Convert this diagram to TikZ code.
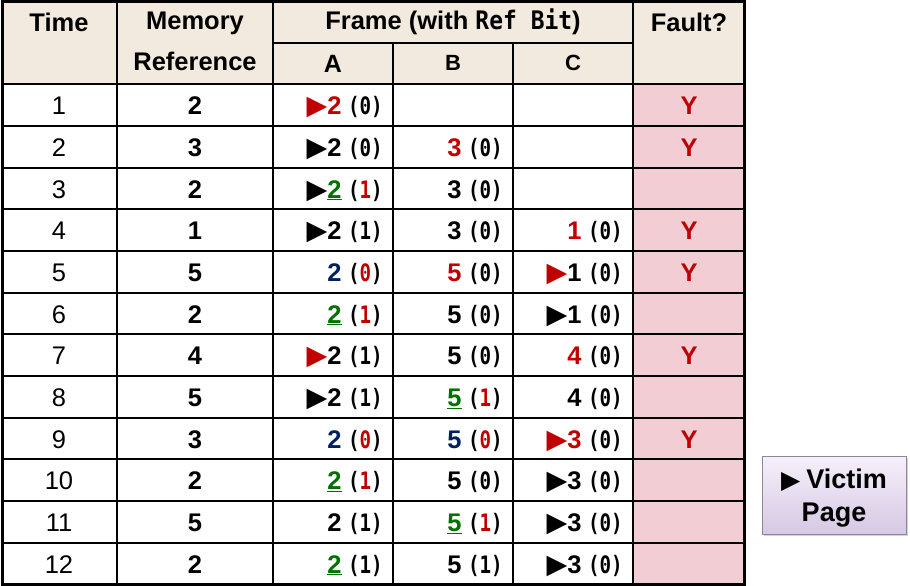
\documentclass[tikz,border=0pt]{standalone}
\usepackage{fontspec}
\setmainfont{Liberation Sans}
\newfontfamily\monof[FakeStretch=0.8]{DejaVu Sans Mono}
\newfontfamily\monoh[FakeStretch=0.9]{DejaVu Sans Mono}
\newfontfamily\symf{DejaVu Sans}
\usetikzlibrary{shadows}
\definecolor{hdr}{RGB}{242,234,222}
\definecolor{fpink}{RGB}{242,206,212}
\definecolor{fred}{RGB}{192,0,0}
\definecolor{fgreen}{RGB}{0,112,0}
\definecolor{fblue}{RGB}{0,32,96}
\definecolor{vtop}{RGB}{246,240,250}
\definecolor{vbot}{RGB}{214,200,228}
\definecolor{vline}{RGB}{140,135,155}
\newcommand{\tri}[1][black]{{\symf\fontsize{27}{28}\selectfont\color{#1}▶}}
\newcommand{\pg}[2][black]{\textcolor{#1}{\bfseries #2}}
\newcommand{\rb}[2][black]{\hspace{6.5pt}{\monof\fontsize{24}{26}\selectfont\bfseries(\textcolor{#1}{#2})}}
\newcommand{\ulg}[1]{\textcolor{fgreen}{\underline{\bfseries #1}}}
\begin{document}
\begin{tikzpicture}[x=1pt,y=-1pt,
  hd/.style={font=\bfseries\fontsize{25.5}{28}\selectfont, inner sep=0pt, align=center},
  sub/.style={font=\bfseries\fontsize{22}{24}\selectfont, inner sep=0pt},
  cell/.style={font=\fontsize{25.5}{28}\selectfont, inner sep=0pt, anchor=base east},
  ctr/.style={font=\fontsize{25.5}{28}\selectfont, inner sep=0pt, anchor=base},
  grid/.style={line width=1.3pt},
  outer/.style={line width=3pt},
  victim/.style={draw=vline, line width=1pt, top color=vtop, bottom color=vbot,
     minimum width=144pt, minimum height=78pt, inner sep=0pt,
     drop shadow={shadow xshift=2pt, shadow yshift=-2pt, opacity=0.35}},
  vtext/.style={inner sep=0pt, align=center, font=\bfseries\fontsize{27}{33}\selectfont}]
\useasboundingbox (0,0) rectangle (910,586);
% fills
\fill[hdr] (2,2) rectangle (744,84);
\fill[fpink] (633,84) rectangle (744,584);
% grid
\foreach \yy in {126,168,209,251,293,334,376,418,459,501,543} {\draw[grid] (2,\yy) -- (744,\yy);}
\draw[grid] (2,84) -- (744,84);
\draw[grid] (273,43) -- (633,43);
\draw[grid] (117,2) -- (117,584);
\draw[grid] (273,2) -- (273,584);
\draw[grid] (633,2) -- (633,584);
\draw[grid] (393,43) -- (393,584);
\draw[grid] (513,43) -- (513,584);
\draw[outer] (2,2) rectangle (744,584);
% header
\node[hd] (hT) at (59,22) {Time};
\node[hd] (hM1) at (195,23) {Memory};
\node[hd] (hM2) at (195,61) {Reference};
\node[hd] (hF) at (453,22) {Frame (with {\monoh Ref Bit})};
\node[hd] (hQ) at (689,22) {Fault?};
\node[sub, font=\bfseries\fontsize{25}{26}\selectfont] (hA) at (333,64) {A};
\node[sub] (hB) at (453,63) {B};
\node[sub] (hC) at (573,63) {C};
% body: baseline = row centre + 10
\def\bl#1{{84+41.667*(#1-0.5)+10}}
% row 1
\node[ctr] (t1) at (59,\bl{1}) {1};
\node[ctr] (m1) at (195,\bl{1}) {\bfseries 2};
\node[cell] (a1) at (383,\bl{1}) {\tri[fred]\pg[fred]{2}\rb{0}};
\node[ctr] (f1) at (689,\bl{1}) {\pg[fred]{Y}};
% row 2
\node[ctr] (t2) at (59,\bl{2}) {2};
\node[ctr] (m2) at (195,\bl{2}) {\bfseries 3};
\node[cell] (a2) at (383,\bl{2}) {\tri\pg{2}\rb{0}};
\node[cell] (b2) at (503,\bl{2}) {\pg[fred]{3}\rb{0}};
\node[ctr] (f2) at (689,\bl{2}) {\pg[fred]{Y}};
% row 3
\node[ctr] (t3) at (59,\bl{3}) {3};
\node[ctr] (m3) at (195,\bl{3}) {\bfseries 2};
\node[cell] (a3) at (383,\bl{3}) {\tri\ulg{2}\rb[fred]{1}};
\node[cell] (b3) at (503,\bl{3}) {\pg{3}\rb{0}};
% row 4
\node[ctr] (t4) at (59,\bl{4}) {4};
\node[ctr] (m4) at (195,\bl{4}) {\bfseries 1};
\node[cell] (a4) at (383,\bl{4}) {\tri\pg{2}\rb{1}};
\node[cell] (b4) at (503,\bl{4}) {\pg{3}\rb{0}};
\node[cell] (c4) at (623,\bl{4}) {\pg[fred]{1}\rb{0}};
\node[ctr] (f4) at (689,\bl{4}) {\pg[fred]{Y}};
% row 5
\node[ctr] (t5) at (59,\bl{5}) {5};
\node[ctr] (m5) at (195,\bl{5}) {\bfseries 5};
\node[cell] (a5) at (383,\bl{5}) {\pg[fblue]{2}\rb[fred]{0}};
\node[cell] (b5) at (503,\bl{5}) {\pg[fred]{5}\rb{0}};
\node[cell] (c5) at (623,\bl{5}) {\tri[fred]\pg{1}\rb{0}};
\node[ctr] (f5) at (689,\bl{5}) {\pg[fred]{Y}};
% row 6
\node[ctr] (t6) at (59,\bl{6}) {6};
\node[ctr] (m6) at (195,\bl{6}) {\bfseries 2};
\node[cell] (a6) at (383,\bl{6}) {\ulg{2}\rb[fred]{1}};
\node[cell] (b6) at (503,\bl{6}) {\pg{5}\rb{0}};
\node[cell] (c6) at (623,\bl{6}) {\tri\pg{1}\rb{0}};
% row 7
\node[ctr] (t7) at (59,\bl{7}) {7};
\node[ctr] (m7) at (195,\bl{7}) {\bfseries 4};
\node[cell] (a7) at (383,\bl{7}) {\tri[fred]\pg{2}\rb{1}};
\node[cell] (b7) at (503,\bl{7}) {\pg{5}\rb{0}};
\node[cell] (c7) at (623,\bl{7}) {\pg[fred]{4}\rb{0}};
\node[ctr] (f7) at (689,\bl{7}) {\pg[fred]{Y}};
% row 8
\node[ctr] (t8) at (59,\bl{8}) {8};
\node[ctr] (m8) at (195,\bl{8}) {\bfseries 5};
\node[cell] (a8) at (383,\bl{8}) {\tri\pg{2}\rb{1}};
\node[cell] (b8) at (503,\bl{8}) {\ulg{5}\rb[fred]{1}};
\node[cell] (c8) at (623,\bl{8}) {\pg{4}\rb{0}};
% row 9
\node[ctr] (t9) at (59,\bl{9}) {9};
\node[ctr] (m9) at (195,\bl{9}) {\bfseries 3};
\node[cell] (a9) at (383,\bl{9}) {\pg[fblue]{2}\rb[fred]{0}};
\node[cell] (b9) at (503,\bl{9}) {\pg[fblue]{5}\rb[fred]{0}};
\node[cell] (c9) at (623,\bl{9}) {\tri[fred]\pg[fred]{3}\rb{0}};
\node[ctr] (f9) at (689,\bl{9}) {\pg[fred]{Y}};
% row 10
\node[ctr] (t10) at (59,\bl{10}) {10};
\node[ctr] (m10) at (195,\bl{10}) {\bfseries 2};
\node[cell] (a10) at (383,\bl{10}) {\ulg{2}\rb[fred]{1}};
\node[cell] (b10) at (503,\bl{10}) {\pg{5}\rb{0}};
\node[cell] (c10) at (623,\bl{10}) {\tri\pg{3}\rb{0}};
% row 11
\node[ctr] (t11) at (59,\bl{11}) {11};
\node[ctr] (m11) at (195,\bl{11}) {\bfseries 5};
\node[cell] (a11) at (383,\bl{11}) {\pg{2}\rb{1}};
\node[cell] (b11) at (503,\bl{11}) {\ulg{5}\rb[fred]{1}};
\node[cell] (c11) at (623,\bl{11}) {\tri\pg{3}\rb{0}};
% row 12
\node[ctr] (t12) at (59,\bl{12}) {12};
\node[ctr] (m12) at (195,\bl{12}) {\bfseries 2};
\node[cell] (a12) at (383,\bl{12}) {\ulg{2}\rb{1}};
\node[cell] (b12) at (503,\bl{12}) {\pg{5}\rb{1}};
\node[cell] (c12) at (623,\bl{12}) {\tri\pg{3}\rb{0}};
% victim box
\node[victim] (vp) at (834,495) {};
\node[vtext] (vpt) at ([yshift=-3pt]vp.center) {{\symf\fontsize{25}{28}\selectfont ▶}\hspace{6pt}Victim\\Page};
\end{tikzpicture}
\end{document}
